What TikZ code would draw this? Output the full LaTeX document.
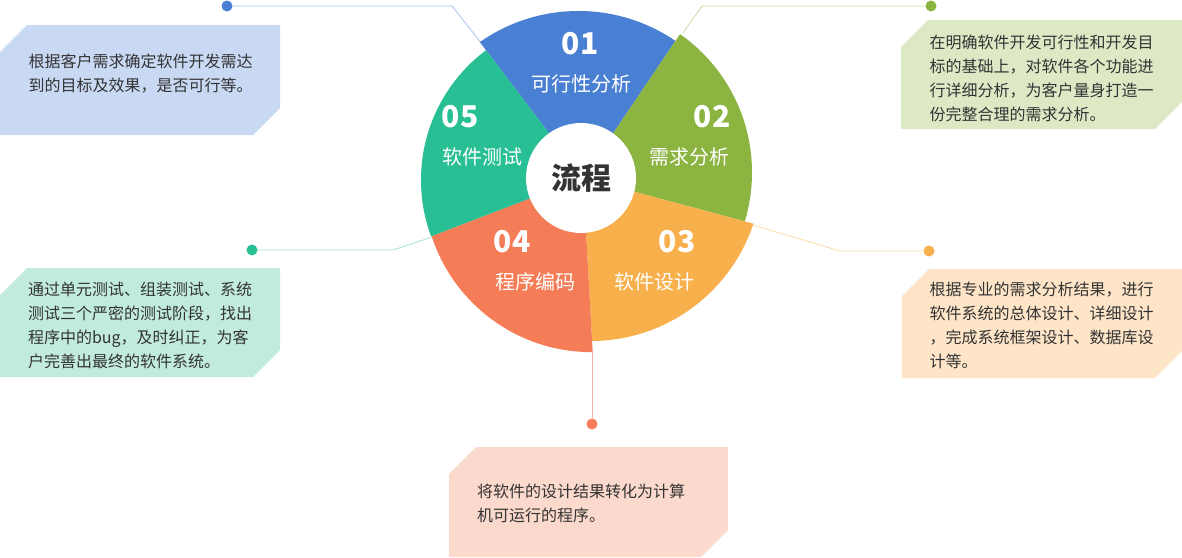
\documentclass[tikz,border=0pt]{standalone}
\usepackage{fontspec}
\setmainfont{Noto Sans CJK SC}
\definecolor{flowblue}{HTML}{4A80D4}
\definecolor{flowgreen}{HTML}{8CB441}
\definecolor{floworange}{HTML}{F7B04B}
\definecolor{flowred}{HTML}{F47C57}
\definecolor{flowteal}{HTML}{27BF93}
\definecolor{lineblue}{HTML}{A9C3EE}
\definecolor{linegreen}{HTML}{C8DDA4}
\definecolor{lineorange}{HTML}{FCD9A8}
\definecolor{linered}{HTML}{F6B5A2}
\definecolor{lineteal}{HTML}{A3E2CE}
\definecolor{boxblue}{HTML}{C9D9F3}
\definecolor{boxgreen}{HTML}{DDE8C5}
\definecolor{boxorange}{HTML}{FEE5C8}
\definecolor{boxred}{HTML}{FBD9CD}
\definecolor{boxteal}{HTML}{C1EBDE}
\definecolor{textgray}{HTML}{333333}

% one slice of the pie: colour, wedge angles, arc centre, arc radius
\newcommand{\flowslice}[5]{%
	\begin{scope}
		\clip[shift={(pie)}] (0,0) -- (#2:400) -- ({(#2+#3)/2}:400) -- (#3:400) -- cycle;
		\fill[#1] (#4) circle[radius=#5];
	\end{scope}}
% note box with two chamfered corners
\newcommand{\notebox}[5]{%
	\fill[#5] ({#1+27},#2) -- (#3,#2) -- (#3,{#4-27}) -- ({#3-27},#4) -- (#1,#4) -- (#1,{#2+27}) -- cycle;}

\begin{document}
\begin{tikzpicture}[x=1pt,y=-1pt,
		lead/.style={line width=0.8pt},
		dot/.style={circle,fill,inner sep=0pt,minimum size=11pt},
		num/.style={text=white,font=\bfseries\fontsize{30}{30}\selectfont,inner sep=0pt},
		stage/.style={text=white,font=\fontsize{20}{20}\selectfont,inner sep=0pt},
		note/.style={align=left,text=textgray,font=\fontsize{16}{24}\selectfont,inner sep=0pt}]
	\useasboundingbox (0,0) rectangle (1182,557);
	\coordinate (pie) at (583,178);

	% leader lines
	\coordinate (k1) at (452,6);   \coordinate (e1) at (482,44);
	\coordinate (k2) at (702,6);   \coordinate (e2) at (683,33);
	\coordinate (k3) at (840,251); \coordinate (e3) at (753,225);
	\coordinate (e4) at (592,352);
	\coordinate (k5) at (393,250); \coordinate (e5) at (432,237);
	\node[dot,flowblue] (d1) at (227,6) {};
	\node[dot,flowgreen] (d2) at (931,6) {};
	\node[dot,floworange] (d3) at (929,251) {};
	\node[dot,flowred] (d4) at (592,424) {};
	\node[dot,flowteal] (d5) at (252,250) {};
	\draw[lead,lineblue] (d1) -- (k1) -- (e1);
	\draw[lead,linegreen] (d2) -- (k2) -- (e2);
	\draw[lead,lineorange] (d3) -- (k3) -- (e3);
	\draw[lead,linered] (d4) -- (e4);
	\draw[lead,lineteal] (d5) -- (k5) -- (e5);

	% pie
	\flowslice{flowblue}{-127.2}{-56}{578.5,183}{172}
	\flowslice{flowgreen}{-56}{15}{583,172.5}{169}
	\flowslice{floworange}{15}{86.8}{591,170}{171}
	\flowslice{flowred}{86.8}{159}{591.4,184.1}{168}
	\flowslice{flowteal}{159}{232.8}{583,180}{162}
	\node[circle,fill=white,minimum size=110pt,inner sep=0pt,text=textgray,
		font=\bfseries\fontsize{30}{30}\selectfont] (hub) at (581,178) {流程};

	\node[num] (n1) at (580,44) {01};
	\node[stage] (s1) at (581,84) {可行性分析};
	\node[num] (n2) at (712,117) {02};
	\node[stage] (s2) at (689,157) {需求分析};
	\node[num] (n3) at (677,242) {03};
	\node[stage] (s3) at (654,282) {软件设计};
	\node[num] (n4) at (512,242) {04};
	\node[stage] (s4) at (535,282) {程序编码};
	\node[num] (n5) at (460,117) {05};
	\node[stage] (s5) at (482,157) {软件测试};

	% notes
	\notebox{0}{25}{280}{135}{boxblue}
	\notebox{901}{20}{1182}{129}{boxgreen}
	\notebox{902}{269}{1182}{378}{boxorange}
	\notebox{449}{447}{728}{557}{boxred}
	\notebox{0}{268}{280}{377}{boxteal}
	\node[note] (t1) at (140.5,74) {根据客户需求确定软件开发需达\\到的目标及效果，是否可行等。};
	\node[note] (t2) at (1041.5,78) {在明确软件开发可行性和开发目\\标的基础上，对软件各个功能进\\行详细分析，为客户量身打造一\\份完整合理的需求分析。};
	\node[note] (t3) at (1041.5,325.5) {根据专业的需求分析结果，进行\\软件系统的总体设计、详细设计\\，完成系统框架设计、数据库设\\计等。};
	\node[note] (t4) at (581,503) {将软件的设计结果转化为计算\\机可运行的程序。};
	\node[note] (t5) at (140,325) {通过单元测试、组装测试、系统\\测试三个严密的测试阶段，找出\\程序中的bug，及时纠正，为客\\户完善出最终的软件系统。};
\end{tikzpicture}
\end{document}
